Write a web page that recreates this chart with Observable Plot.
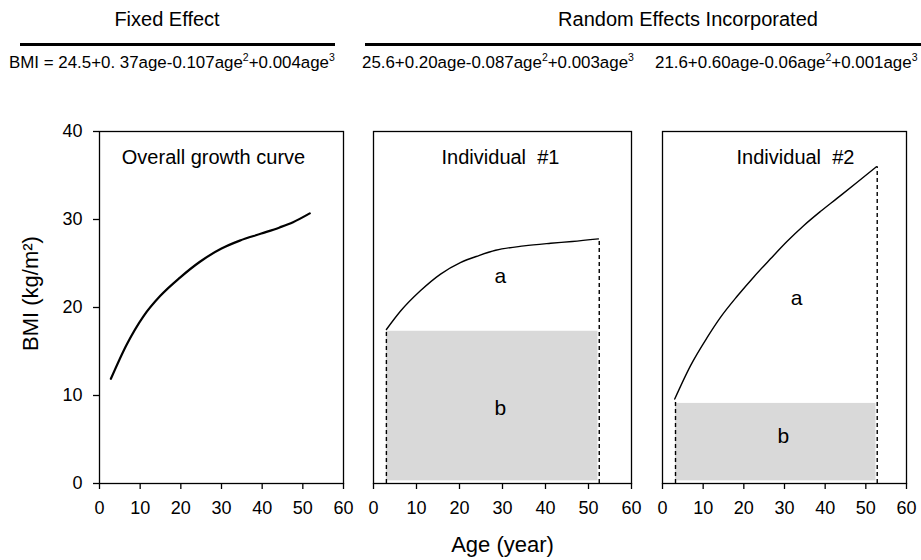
<!DOCTYPE html>
<html>
<head>
<meta charset="utf-8">
<script src="https://cdn.jsdelivr.net/npm/d3@7"></script>
<script src="https://cdn.jsdelivr.net/npm/@observablehq/plot@0.6"></script>
<style>
  html, body { margin: 0; padding: 0; background: #fff; }
  body { width: 921px; height: 560px; position: relative; overflow: hidden;
         font-family: "Liberation Sans", Arial, sans-serif; color: #000; }
  .abs { position: absolute; white-space: nowrap; }
  .head { font-size: 20px; top: 8px; transform: translateX(-50%); }
  .rule { position: absolute; height: 3px; background: #000; top: 43px; }
  .eq { font-size: 16.9px; top: 53px; }
  .eq sup { font-size: 10.5px; vertical-align: 7px; line-height: 0; }
  .panel { position: absolute; top: 100px; }
</style>
</head>
<body>
<div class="abs head" style="left:167px">Fixed Effect</div>
<div class="abs head" style="left:688px">Random Effects Incorporated</div>
<div class="rule" style="left:20px; width:315px"></div>
<div class="rule" style="left:365px; width:556px"></div>
<div class="abs eq" style="left:9px">BMI = 24.5+0. 37age-0.107age<sup>2</sup>+0.004age<sup>3</sup></div>
<div class="abs eq" style="left:362px">25.6+0.20age-0.087age<sup>2</sup>+0.003age<sup>3</sup></div>
<div class="abs eq" style="left:655px">21.6+0.60age-0.06age<sup>2</sup>+0.001age<sup>3</sup></div>
<div id="p1" class="panel" style="left:0px"></div>
<div id="p2" class="panel" style="left:358px"></div>
<div id="p3" class="panel" style="left:646px"></div>
<script>
// ---- data ----
const xTicks = [0, 10, 20, 30, 40, 50, 60];
const yTicks = [0, 10, 20, 30, 40];

const ageFixed = [2.8, 6.7, 10.8, 14.9, 19.8, 24.7, 30.0, 34.5, 39.8, 44.3, 47.6, 51.7];
const bmiFixed = [11.9, 15.8, 19.0, 21.3, 23.4, 25.2, 26.7, 27.6, 28.4, 29.1, 29.7, 30.7];

const age1 = [3.0, 6.3, 10.9, 15.6, 20.2, 24.5, 28.4, 35.0, 41.2, 46.2, 52.3];
const bmi1 = [17.5, 19.6, 21.9, 23.8, 25.1, 25.9, 26.5, 27.0, 27.3, 27.5, 27.8];

const age2 = [3.0, 6.9, 11.0, 14.3, 18.4, 22.5, 26.5, 30.6, 34.7, 38.8, 42.9, 47.8, 52.6];
const bmi2 = [9.6, 13.4, 16.6, 18.9, 21.3, 23.5, 25.5, 27.5, 29.3, 30.9, 32.4, 34.2, 36.0];

// shaded area "b" (start age, end age, baseline BMI, bottom)
const shade1 = [3.0, 52.2, 17.3, 0.3];
const shade2 = [3.2, 52.5, 9.1, 0.3];

// dashed verticals (age, top BMI)
const dash1 = [[3.0, 17.3], [52.5, 27.8]];
const dash2 = [[3.2, 9.4], [52.8, 36.0]];

// region labels [text, age, BMI]
const labels1 = [["a", 29.5, 23.6], ["b", 29.5, 8.5]];
const labels2 = [["a", 33.0, 21.0], ["b", 29.7, 5.4]];

const titles = ["Overall growth curve", "Individual  #1", "Individual  #2"];
const yTitle = "BMI (kg/m²)";
const xTitle = "Age (year)";
// ---------------------------------------

const toPts = (xs, ys) => xs.map((x, i) => ({age: x, bmi: ys[i]}));
const font = "'Liberation Sans', Arial, sans-serif";

function panel({width, ml, mr, yAxis, xLabel, series, lineW, shade, dashes, labels, title, titleX}) {
  const marks = [];
  if (shade) {
    marks.push(Plot.rect([shade], {x1: d => d[0], x2: d => d[1], y1: d => d[3], y2: d => d[2], fill: "#d9d9d9"}));
  }
  if (dashes) {
    marks.push(Plot.ruleX(dashes, {x: d => d[0], y1: 0, y2: d => d[1], stroke: "#000", strokeWidth: 1.4, strokeDasharray: "4,3"}));
  }
  marks.push(Plot.frame({stroke: "#000", strokeWidth: 1.3}));
  marks.push(Plot.axisX({ticks: xTicks, tickSize: 6, tickPadding: 12, tickFormat: d => d, strokeWidth: 1.3,
    label: null, fontSize: 18}));
  if (xLabel) {
    marks.push(Plot.text([xLabel], {text: d => d, frameAnchor: "bottom", lineAnchor: "middle", dy: 61, fontSize: 22}));
  }
  if (yAxis) {
    marks.push(Plot.axisY({ticks: yTicks, tickSize: 6, tickPadding: 11, strokeWidth: 1.3, fontSize: 18, label: null}));
    marks.push(Plot.text([yTitle], {text: d => d, frameAnchor: "left", textAnchor: "middle", lineAnchor: "middle",
      rotate: -90, dx: -69, dy: -14, fontSize: 22}));
  }
  marks.push(Plot.line(series, {x: "age", y: "bmi", stroke: "#000", strokeWidth: lineW, curve: "monotone-x"}));
  marks.push(Plot.text([title], {text: d => d, frameAnchor: "top", lineAnchor: "middle", dy: 26, dx: titleX, fontSize: 20}));
  if (labels) {
    marks.push(Plot.text(labels, {text: d => d[0], x: d => d[1], y: d => d[2], fontSize: 21}));
  }
  return Plot.plot({
    width, height: 460,
    marginTop: 31, marginBottom: 77, marginLeft: ml, marginRight: mr,
    x: {domain: [0, 60]},
    y: {domain: [0, 40], axis: null},
    style: {fontFamily: font, fontSize: "19px", color: "#000", background: "transparent", overflow: "visible"},
    marks
  });
}

document.getElementById("p1").appendChild(panel({
  width: 358, ml: 99, mr: 15, yAxis: true, xLabel: null,
  series: toPts(ageFixed, bmiFixed), lineW: 2.2, title: titles[0], titleX: -8
}));
document.getElementById("p2").appendChild(panel({
  width: 288, ml: 15, mr: 15, yAxis: false, xLabel: xTitle,
  series: toPts(age1, bmi1), lineW: 1.4, shade: shade1, dashes: dash1, labels: labels1, title: titles[1], titleX: -2
}));
document.getElementById("p3").appendChild(panel({
  width: 275, ml: 16, mr: 15, yAxis: false, xLabel: null,
  series: toPts(age2, bmi2), lineW: 1.4, shade: shade2, dashes: dash2, title: titles[2], titleX: 11,
  labels: labels2
}));
</script>
</body>
</html>
